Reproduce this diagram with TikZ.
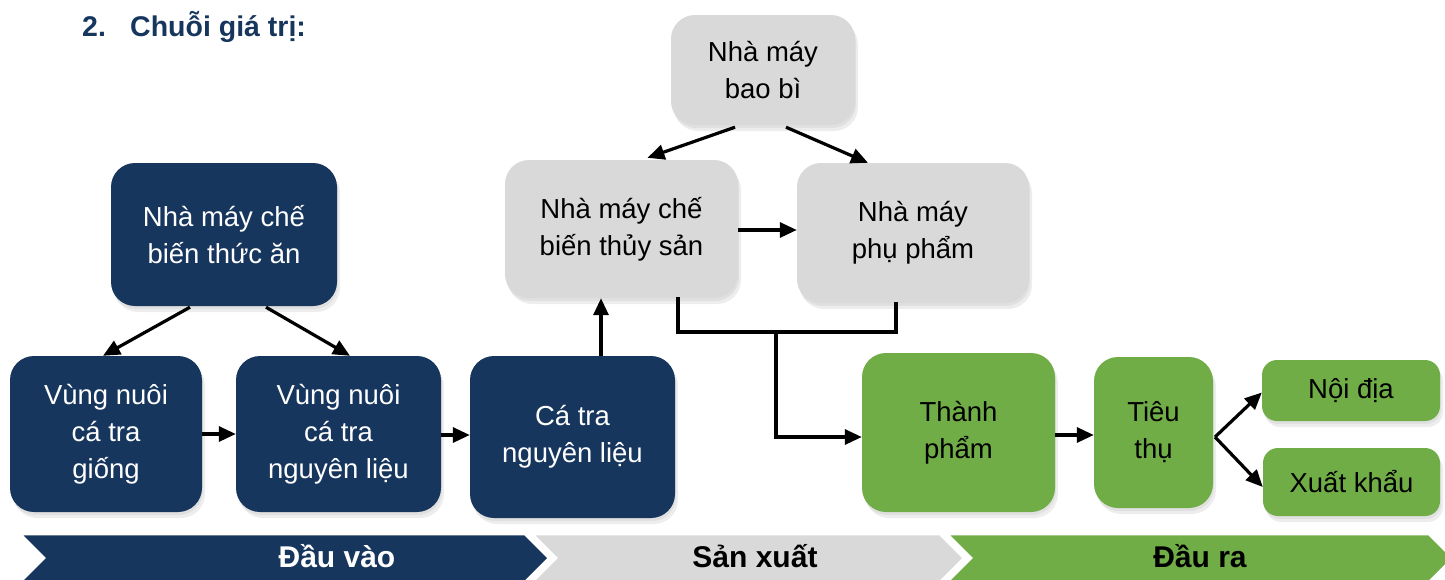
\documentclass[tikz,border=0pt]{standalone}
\usepackage{fontspec}
\setmainfont{Liberation Sans}
\usetikzlibrary{arrows.meta,shadows,calc}
\definecolor{navy}{HTML}{17365D}
\definecolor{lgray}{HTML}{D9D9D9}
\definecolor{ogreen}{HTML}{70AD47}
\begin{document}
\begin{tikzpicture}[x=1pt,y=-1pt,
  box/.style={rectangle, rounded corners=24pt, align=center, inner sep=0pt,
    font=\fontsize{27.5}{37}\selectfont,
    drop shadow={opacity=0.12, shadow xshift=1pt, shadow yshift=-3pt},
    drop shadow={opacity=0.14, shadow xshift=3pt, shadow yshift=-6pt}},
  navybox/.style={box, fill=navy, text=white},
  graybox/.style={box, fill=lgray, text=black},
  greenbox/.style={box, fill=ogreen, text=black},
  conn/.style={line width=3.2pt, draw=black},
  arr/.style={conn, -{Triangle[length=17pt,width=15pt]}},
  band/.style={draw=white, line width=2.5pt},
  bandtext/.style={font=\fontsize{30}{34}\selectfont\bfseries, anchor=base}
]
\useasboundingbox (0,0) rectangle (1445,579);

% title
\node[anchor=base west, text=navy, font=\fontsize{28.5}{34}\selectfont\bfseries, inner sep=0pt] (num) at (82,36) {2.};
\node[anchor=base west, text=navy, font=\fontsize{28.5}{34}\selectfont\bfseries, inner sep=0pt] (title) at (130,36) {Chuỗi giá trị:};

% boxes
\node[graybox, minimum width=184pt, minimum height=110pt] (bb) at (763,70) {Nhà máy\\bao bì};
\node[navybox, minimum width=226pt, minimum height=143pt] (ta) at (224,234.5) {Nhà máy chế\\biến thức ăn};
\node[navybox, minimum width=192pt, minimum height=156pt] (gi) at (106,434) {Vùng nuôi\\cá tra\\giống};
\node[navybox, minimum width=205pt, minimum height=156pt] (nl) at (338.5,434) {Vùng nuôi\\cá tra\\nguyên liệu};
\node[navybox, minimum width=205pt, minimum height=162pt] (ct) at (572.5,437) {Cá tra\\nguyên liệu};
\node[graybox, minimum width=233pt, minimum height=138pt] (cb) at (621.5,229) {Nhà máy chế\\biến thủy sản};
\node[graybox, minimum width=232pt, minimum height=140pt] (pp) at (913,233) {Nhà máy\\phụ phẩm};
\node[greenbox, minimum width=193pt, minimum height=159pt] (tp) at (958.5,432.5) {Thành\\phẩm};
\node[greenbox, minimum width=119pt, minimum height=151pt] (tt) at (1153.5,432.5) {Tiêu\\thụ};
\node[greenbox, rounded corners=15pt, minimum width=178pt, minimum height=61pt] (nd) at (1351,390.5) {Nội địa};
\node[greenbox, rounded corners=15pt, minimum width=177pt, minimum height=68pt] (xk) at (1351.5,482) {Xuất khẩu};

% connectors
\draw[arr] ([xshift=-28pt,yshift=-2pt]bb.south) -- ([xshift=26pt,yshift=2pt]cb.north);
\draw[arr] ([xshift=23pt,yshift=-2pt]bb.south) -- ([xshift=-45pt]pp.north);
\draw[arr] ([xshift=-34pt,yshift=-1pt]ta.south) -- ([xshift=-3pt]gi.north);
\draw[arr] ([xshift=42pt,yshift=-1pt]ta.south) -- ([xshift=11.5pt]nl.north);
\draw[arr] (gi.east) -- (gi.east -| nl.west);
\draw[arr] ([yshift=-1pt]nl.east) -- ([yshift=-1pt]nl.east -| ct.west);
\draw[arr] ([xshift=28.5pt]ct.north) -- ([xshift=28.5pt]ct.north |- cb.south);
\draw[arr] ([yshift=-1pt]cb.east) -- ([yshift=-1pt]cb.east -| pp.west);
\coordinate (j) at (776,332);
\draw[conn, line cap=rect] ([xshift=56.5pt]cb.south) |- (j) -| ([xshift=-17pt]pp.south);
\draw[arr] (j) |- ([yshift=-4.5pt]tp.west);
\draw[arr] ([yshift=-2.5pt]tp.east) -- ([yshift=-2.5pt]tp.east -| tt.west);
\coordinate (fork) at (1215,437);
\draw[arr] (fork) -- ([yshift=-2pt]nd.west);
\draw[arr] (fork) -- ([yshift=-5pt]xk.west);

% bottom band
\fill[navy, band] (20,534) -- (525,534) -- (549,558) -- (525,582) -- (20,582) -- (44,558) -- cycle;
\fill[lgray, band] (532,534) -- (940,534) -- (964,558) -- (940,582) -- (532,582) -- (556,558) -- cycle;
\fill[ogreen, band] (947,534) -- (1429,534) -- (1453,558) -- (1429,582) -- (947,582) -- (971,558) -- cycle;
\node[bandtext, text=white] (dv) at (337,567) {Đầu vào};
\node[bandtext, text=black] (sx) at (755,567) {Sản xuất};
\node[bandtext, text=black] (dr) at (1200,567) {Đầu ra};
\end{tikzpicture}
\end{document}
